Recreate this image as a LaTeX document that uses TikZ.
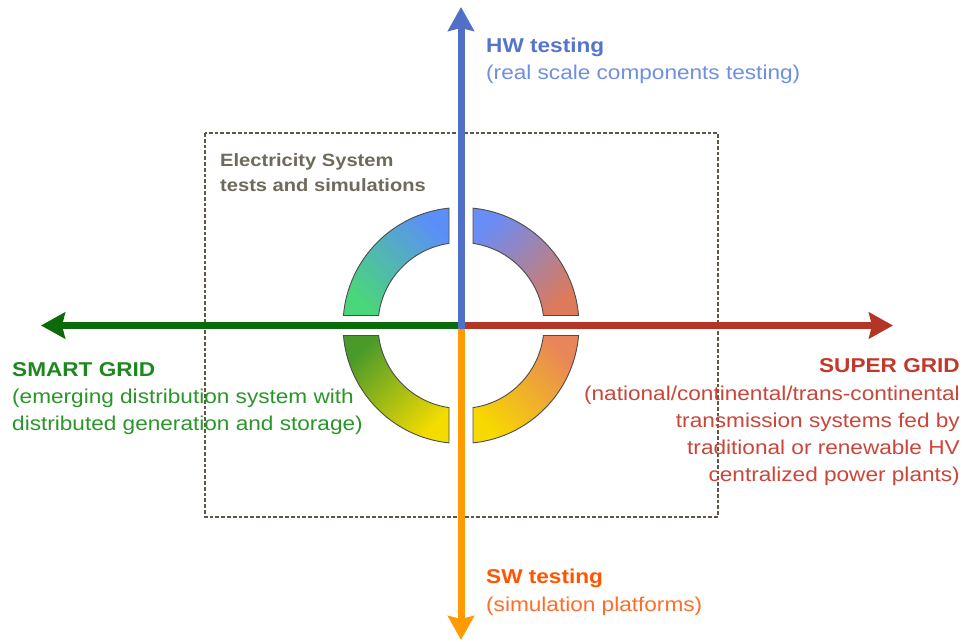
\documentclass[tikz,border=0pt]{standalone}
\usepackage{fontspec}
\setmainfont[FakeStretch=1.13]{Liberation Sans}
\usetikzlibrary{arrows.meta,calc}
\definecolor{hwblue}{HTML}{4F6FC8}
\definecolor{hwtxt}{HTML}{5575CC}
\definecolor{hwsub}{HTML}{6F8FDF}
\definecolor{swor}{HTML}{FF9A00}
\definecolor{swtxt}{HTML}{FF5500}
\definecolor{swsub}{HTML}{FF6D2A}
\definecolor{sgreen}{HTML}{0B6B0B}
\definecolor{sgtxt}{HTML}{1E881E}
\definecolor{sgsub}{HTML}{2A962A}
\definecolor{spred}{HTML}{B23526}
\definecolor{sptxt}{HTML}{C0392B}
\definecolor{spsub}{HTML}{C9463A}
\definecolor{boxgray}{HTML}{5E5748}
\definecolor{etxt}{HTML}{6E6A5C}
\definecolor{rgreen}{HTML}{4AD67A}
\definecolor{rblue}{HTML}{5B8FF7}
\definecolor{rblue2}{HTML}{6A8CF5}
\definecolor{rred}{HTML}{DD7A5A}
\definecolor{rdgreen}{HTML}{4A9A2A}
\definecolor{ryellow}{HTML}{F5DC00}
\definecolor{ryellow2}{HTML}{F7D800}
\definecolor{rorange}{HTML}{E8855A}
\tikzset{
  axisline/.style={line width=7pt},
  axishead/.style={-{Stealth[length=24pt,width=26pt,inset=3pt]}},
  lbl/.style={inner sep=0pt, font=\fontsize{20}{27}\selectfont},
  elbl/.style={inner sep=0pt, font=\fontsize{17.8}{25}\selectfont\bfseries, text=etxt},
  seg/.style={draw=black!70, line width=0.9pt},
  dashbox/.style={draw=boxgray, line width=2.6pt, dash pattern=on 3.8pt off 2pt}
}
\begin{document}
\begin{tikzpicture}[x=1pt,y=1pt]
\useasboundingbox (0,0) rectangle (964,641);
\fill[white] (0,0) rectangle (964,641);
% dashed frame
\draw[dashbox] (205,508) rectangle (718,124);
% ring segments
\coordinate (O) at (461,315.5);
\shade[seg, top color=rblue, bottom color=rgreen, shading angle=-45]
  ($(O)+(95.84:118)$) arc[start angle=95.84, end angle=175.14, radius=118]
  -- ($(O)+(173.08:83)$) arc[start angle=173.08, end angle=98.31, radius=83] -- cycle;
\shade[seg, top color=rblue2, bottom color=rred, shading angle=45]
  ($(O)+(4.86:118)$) arc[start angle=4.86, end angle=84.16, radius=118]
  -- ($(O)+(81.69:83)$) arc[start angle=81.69, end angle=6.92, radius=83] -- cycle;
\shade[seg, top color=rdgreen, bottom color=ryellow, shading angle=45]
  ($(O)+(184.86:118)$) arc[start angle=184.86, end angle=264.16, radius=118]
  -- ($(O)+(261.69:83)$) arc[start angle=261.69, end angle=186.92, radius=83] -- cycle;
\shade[seg, top color=rorange, bottom color=ryellow2, shading angle=-45]
  ($(O)+(275.84:118)$) arc[start angle=275.84, end angle=355.14, radius=118]
  -- ($(O)+(353.08:83)$) arc[start angle=353.08, end angle=278.31, radius=83] -- cycle;
% axes
\coordinate (W) at (41,315.5);
\coordinate (E) at (893,315.5);
\coordinate (N) at (461,634);
\coordinate (S) at (461,1);
\draw[axisline, axishead, sgreen] (O) -- (W);
\draw[axisline, axishead, spred] (O) -- (E);
\draw[axisline, axishead, swor] (O) -- (S);
\draw[axisline, axishead, hwblue] ($(O)+(0,-3)$) -- (N);
% labels
\node[lbl, anchor=base west, text=hwtxt, font=\fontsize{20}{27}\selectfont\bfseries] (hw1) at (486,588) {HW testing};
\node[lbl, anchor=base west, text=hwsub] (hw2) at (486,561) {(real scale components testing)};
\node[lbl, anchor=base west, text=swtxt, font=\fontsize{20}{27}\selectfont\bfseries] (sw1) at (486,57.7) {SW testing};
\node[lbl, anchor=base west, text=swsub] (sw2) at (486,30) {(simulation platforms)};
\node[lbl, anchor=base west, text=sgtxt, font=\fontsize{20}{27}\selectfont\bfseries] (sg1) at (12,265) {SMART GRID};
\node[lbl, anchor=base west, text=sgsub] (sg2) at (12,238) {(emerging distribution system with};
\node[lbl, anchor=base west, text=sgsub] (sg3) at (12,211) {distributed generation and storage)};
\node[lbl, anchor=base east, text=sptxt, font=\fontsize{20}{27}\selectfont\bfseries] (sp1) at (960,269) {SUPER GRID};
\node[lbl, anchor=base east, text=spsub] (sp2) at (960,241) {(national/continental/trans-continental};
\node[lbl, anchor=base east, text=spsub] (sp3) at (960,214) {transmission systems fed by};
\node[lbl, anchor=base east, text=spsub] (sp4) at (960,187) {traditional or renewable HV};
\node[lbl, anchor=base east, text=spsub] (sp5) at (960,160) {centralized power plants)};
\node[elbl, anchor=base west] (es1) at (220,474.3) {Electricity System};
\node[elbl, anchor=base west] (es2) at (220,449.3) {tests and simulations};
\end{tikzpicture}
\end{document}
